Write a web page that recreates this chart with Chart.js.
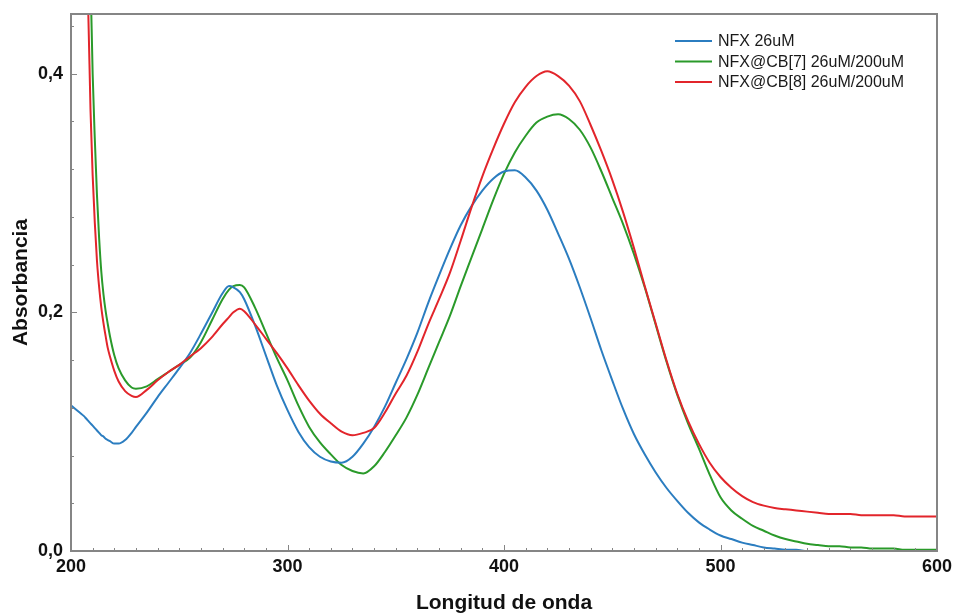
<!DOCTYPE html>
<html>
<head>
<meta charset="utf-8">
<script src="https://cdn.jsdelivr.net/npm/chart.js@4/dist/chart.umd.min.js"></script>
<style>
html,body{margin:0;padding:0;background:#fff;}
#wrap{width:956px;height:613px;position:relative;overflow:hidden;}
</style>
</head>
<body>
<div id="wrap"><canvas id="c" width="956" height="613"></canvas></div>
<script>
// ---- data ----
const wavelengths = [200,202,204,206,207,208,209,210,211,212,213,214,215,216,217,218,220,222,225,228,230,
  235,240,245,250,255,260,265,270,273,275,278,280,
  285,290,295,300,305,310,315,320,325,330,335,340,345,350,355,360,365,370,375,380,385,390,395,400,
  405,410,415,420,425,430,435,440,445,450,455,460,465,470,475,480,485,490,495,500,
  505,510,515,520,525,530,535,540,545,550,555,560,565,570,575,580,585,590,595,600];

const nfx = [0.122,0.119,0.116,0.113,0.111,0.109,0.107,0.105,0.103,0.101,0.099,0.097,0.096,0.094,0.093,0.092,0.090,0.090,0.093,0.099,0.104,
  0.116,0.129,0.141,0.153,0.166,0.182,0.199,0.216,0.222,0.221,0.217,0.211,
  0.189,0.164,0.139,0.118,0.100,0.087,0.079,0.075,0.074,0.079,0.090,0.104,0.121,0.141,0.161,0.183,0.208,0.231,0.253,0.273,0.289,0.302,0.312,0.318,
  0.319,0.313,0.302,0.286,0.266,0.245,0.221,0.195,0.168,0.143,0.119,0.098,0.081,0.066,0.053,0.042,0.032,0.024,0.018,0.013,
  0.010,0.007,0.005,0.003,0.002,0.001,0.001,0.000,0.000,0.000,0.000,0.000,0.000,0.000,0.000,0.000,0.000,0.000,0.000,0.000];

const nfxCB7 = [1.0,0.85,0.72,0.61,0.56,0.52,0.48,0.40,0.345,0.298,0.262,0.234,0.215,0.201,0.190,0.180,0.164,0.153,0.143,0.137,0.136,
  0.138,0.144,0.150,0.156,0.162,0.175,0.193,0.211,0.219,0.222,0.223,0.221,
  0.204,0.183,0.162,0.143,0.122,0.104,0.091,0.081,0.072,0.067,0.065,0.071,0.083,0.097,0.112,0.131,0.153,0.175,0.197,0.222,0.246,0.270,0.294,0.316,
  0.334,0.348,0.359,0.364,0.366,0.362,0.353,0.338,0.318,0.296,0.274,0.249,0.221,0.190,0.159,0.131,0.107,0.086,0.064,0.045,
  0.034,0.027,0.021,0.017,0.013,0.010,0.008,0.006,0.005,0.004,0.004,0.003,0.003,0.002,0.002,0.002,0.001,0.001,0.001,0.001];

const nfxCB8 = [1.0,0.8,0.65,0.54,0.49,0.45,0.37,0.315,0.275,0.243,0.221,0.204,0.191,0.180,0.170,0.163,0.151,0.142,0.134,0.130,0.129,
  0.135,0.143,0.150,0.156,0.163,0.170,0.179,0.190,0.196,0.200,0.203,0.201,
  0.190,0.178,0.166,0.153,0.139,0.126,0.115,0.107,0.100,0.097,0.099,0.103,0.116,0.132,0.147,0.167,0.190,0.211,0.233,0.260,0.288,0.314,0.337,0.358,
  0.376,0.389,0.398,0.402,0.398,0.390,0.377,0.357,0.335,0.311,0.284,0.254,0.222,0.191,0.160,0.132,0.109,0.090,0.074,0.062,
  0.053,0.046,0.041,0.038,0.036,0.035,0.034,0.033,0.032,0.031,0.031,0.031,0.030,0.030,0.030,0.030,0.029,0.029,0.029,0.029];

const seriesNames = ['NFX 26uM', 'NFX@CB[7] 26uM/200uM', 'NFX@CB[8] 26uM/200uM'];
const xTickValues = [200, 300, 400, 500, 600];
const xTickLabels = ['200', '300', '400', '500', '600'];
const yTickValues = [0, 0.2, 0.4];
const yTickLabels = ['0,0', '0,2', '0,4'];
const xTitle = 'Longitud de onda';
const yTitle = 'Absorbancia';

// ---- styles ----
const FONT = '"Liberation Sans", Arial, sans-serif';
const colors = ['#2b7dc0', '#2a9a2a', '#e2252b'];
const AXIS_COLOR = '#858585';

function toPoints(vals) { return vals.map((v, i) => ({ x: wavelengths[i], y: v })); }

const frameTicks = {
  id: 'frameTicks',
  afterDraw(chart) {
    const { ctx, chartArea: a, scales: { x, y } } = chart;
    ctx.save();
    ctx.strokeStyle = AXIS_COLOR;
    ctx.lineWidth = 1;
    ctx.beginPath();
    for (let v = 200; v <= 600.001; v += 10) {
      const px = Math.round(x.getPixelForValue(v)) + 0.5;
      const major = xTickValues.some(t => Math.abs(t - v) < 1e-6);
      const len = major ? 6 : 3;
      ctx.moveTo(px, a.bottom); ctx.lineTo(px, a.bottom - len);
    }
    for (let k = 0; k <= 11; k++) {
      const v = k * 0.04;
      const py = Math.round(y.getPixelForValue(v)) + 0.5;
      const major = yTickValues.some(t => Math.abs(t - v) < 1e-6);
      const len = major ? 6 : 3;
      ctx.moveTo(a.left, py); ctx.lineTo(a.left + len, py);
    }
    ctx.stroke();
    ctx.lineWidth = 2;
    ctx.strokeRect(a.left, a.top, a.right - a.left, a.bottom - a.top);
    // legend
    ctx.font = '16px ' + FONT;
    ctx.textBaseline = 'middle';
    ctx.textAlign = 'left';
    chart.data.datasets.forEach((ds, i) => {
      const ly = a.top + 27 + i * 20.5;
      ctx.strokeStyle = ds.borderColor;
      ctx.lineWidth = 2;
      ctx.beginPath();
      ctx.moveTo(a.right - 262, ly); ctx.lineTo(a.right - 225, ly);
      ctx.stroke();
      ctx.fillStyle = '#1a1a1a';
      ctx.fillText(ds.label, a.right - 219, ly + 1);
    });
    ctx.restore();
  }
};

new Chart(document.getElementById('c'), {
  type: 'line',
  data: {
    datasets: [
      { label: seriesNames[0], data: toPoints(nfx), borderColor: colors[0], order: 2 },
      { label: seriesNames[1], data: toPoints(nfxCB7), borderColor: colors[1], order: 3 },
      { label: seriesNames[2], data: toPoints(nfxCB8), borderColor: colors[2], order: 1 }
    ].map(d => Object.assign(d, { borderWidth: 2, pointRadius: 0, fill: false, cubicInterpolationMode: 'monotone', clip: 0 }))
  },
  options: {
    responsive: false,
    animation: false,
    devicePixelRatio: 1,
    layout: { padding: { top: 14, right: 19, left: 0, bottom: 0 } },
    plugins: { legend: { display: false }, tooltip: { enabled: false }, title: { display: false } },
    scales: {
      x: {
        type: 'linear', min: 200, max: 600,
        afterFit: s => { s.height = 62; s.paddingLeft = 0; s.paddingRight = 0; },
        afterBuildTicks: s => { s.ticks = xTickValues.map(v => ({ value: v })); },
        grid: { display: false, drawTicks: false },
        border: { display: false },
        ticks: {
          padding: 5, color: '#111', maxRotation: 0, autoSkip: false,
          font: { family: FONT, size: 18, weight: 'bold' },
          callback: (v) => { const i = xTickValues.indexOf(v); return i >= 0 ? xTickLabels[i] : ''; }
        },
        title: { display: true, text: xTitle, color: '#111', padding: { top: 0, bottom: -1 },
          font: { family: FONT, size: 21, weight: 'bold', lineHeight: 1 } }
      },
      y: {
        type: 'linear', min: 0, max: 0.45,
        afterFit: s => { s.width = 71; s.paddingTop = 0; s.paddingBottom = 0; },
        afterBuildTicks: s => { s.ticks = yTickValues.map(v => ({ value: v })); },
        grid: { display: false, drawTicks: false },
        border: { display: false },
        ticks: {
          padding: 8, color: '#111',
          font: { family: FONT, size: 18, weight: 'bold' },
          callback: (v) => { const i = yTickValues.findIndex(t => Math.abs(t - v) < 1e-9); return i >= 0 ? yTickLabels[i] : ''; }
        },
        title: { display: true, text: yTitle, color: '#111', padding: { top: 11, bottom: 0 },
          font: { family: FONT, size: 21, weight: 'bold', lineHeight: 1 } }
      }
    }
  },
  plugins: [frameTicks]
});
</script>
</body>
</html>
